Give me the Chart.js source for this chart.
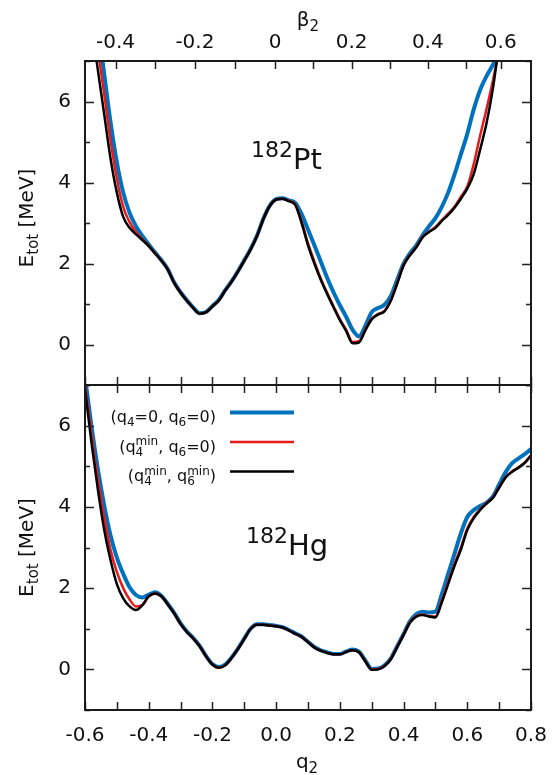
<!DOCTYPE html>
<html>
<head>
<meta charset="utf-8">
<script src="https://cdn.jsdelivr.net/npm/chart.js@4.4.0/dist/chart.umd.min.js"></script>
<style>
  html, body { margin: 0; padding: 0; background: #fff; }
  #wrap { position: relative; width: 555px; height: 775px; }
  canvas { position: absolute; left: 0; }
  #topChart { top: 0; }
  #botChart { top: 380px; }
</style>
</head>
<body>
<div id="wrap">
  <canvas id="topChart" width="555" height="395"></canvas>
  <canvas id="botChart" width="555" height="395"></canvas>
</div>
<script>
// deformation grid (q2)
const q2 = [-0.60,-0.58,-0.56,-0.54,-0.52,-0.50,-0.48,-0.46,-0.44,-0.42,-0.40,-0.38,-0.36,-0.34,-0.32,-0.30,-0.28,-0.26,-0.24,-0.22,-0.20,-0.18,-0.16,-0.14,-0.12,-0.10,-0.08,-0.06,-0.04,-0.02,
  0.00,0.02,0.04,0.06,0.08,0.10,0.12,0.14,0.16,0.18,0.20,0.22,0.24,0.26,0.28,0.30,0.32,0.34,0.36,0.38,0.40,0.42,0.44,0.46,0.48,0.50,0.52,0.54,0.56,0.58,0.60,0.62,0.64,0.66,0.68,0.70,0.72,0.74,0.76,0.78,0.80];

// 182Pt
const ptBlue = [9.8,9.0,7.9,6.7,5.5,4.5,3.75,3.25,2.92,2.68,2.47,2.27,2.08,1.86,1.53,1.29,1.09,0.91,0.77,0.8,0.95,1.1,1.34,1.56,1.81,2.08,2.36,2.69,3.11,3.43,
  3.59,3.61,3.56,3.5,3.22,2.84,2.45,2.05,1.65,1.29,0.97,0.68,0.36,0.2,0.46,0.8,0.9,0.98,1.2,1.6,2.0,2.25,2.45,2.7,2.92,3.12,3.4,3.75,4.2,4.7,5.2,5.8,6.28,6.62,6.9,7.2,7.6,null,null,null,null];
const ptRed = [9.3,8.4,7.3,6.2,5.05,4.1,3.4,3.02,2.78,2.6,2.44,2.25,2.07,1.85,1.52,1.28,1.08,0.9,0.76,0.8,0.94,1.09,1.33,1.55,1.8,2.07,2.35,2.68,3.1,3.42,
  3.58,3.6,3.55,3.46,3.04,2.5,2.05,1.63,1.28,0.95,0.63,0.36,0.06,0.08,0.37,0.64,0.75,0.83,1.1,1.52,1.97,2.21,2.41,2.66,2.79,2.9,3.07,3.23,3.4,3.65,3.9,4.45,5.15,5.8,6.5,7.3,8.1,null,null,null,null];
const ptBlack = [8.9,7.9,6.8,5.7,4.6,3.75,3.15,2.88,2.72,2.58,2.43,2.25,2.07,1.85,1.52,1.28,1.08,0.9,0.76,0.8,0.94,1.09,1.33,1.55,1.8,2.07,2.35,2.68,3.1,3.42,
  3.58,3.6,3.54,3.45,3.0,2.45,2.0,1.6,1.25,0.92,0.6,0.33,0.03,0.05,0.35,0.62,0.74,0.82,1.08,1.5,1.95,2.2,2.4,2.65,2.78,2.88,3.05,3.2,3.38,3.6,3.85,4.2,4.8,5.45,6.3,7.4,8.3,null,null,null,null];

// 182Hg
const hgBlue = [7.2,6.0,4.95,4.05,3.3,2.75,2.35,2.02,1.83,1.77,1.84,1.9,1.81,1.61,1.39,1.13,0.93,0.77,0.58,0.33,0.13,0.06,0.12,0.29,0.51,0.76,1.0,1.11,1.11,1.09,
  1.07,1.04,0.97,0.89,0.81,0.68,0.55,0.47,0.42,0.38,0.38,0.44,0.49,0.44,0.22,0.01,0.02,0.1,0.27,0.57,0.87,1.18,1.36,1.42,1.4,1.42,1.85,2.35,2.85,3.35,3.75,3.92,4.02,4.1,4.25,4.55,4.85,5.07,5.19,5.3,5.42];
const hgRed = [7.05,5.8,4.7,3.75,2.95,2.4,2.0,1.72,1.55,1.58,1.8,1.87,1.8,1.6,1.38,1.12,0.92,0.76,0.57,0.32,0.12,0.04,0.1,0.28,0.5,0.75,1.0,1.1,1.1,1.08,
  1.06,1.03,0.96,0.88,0.8,0.67,0.54,0.46,0.41,0.37,0.37,0.43,0.47,0.42,0.2,0.0,0.01,0.09,0.26,0.56,0.86,1.16,1.31,1.35,1.31,1.3,1.7,2.15,2.6,3.0,3.47,3.75,3.94,4.09,4.23,4.48,4.73,4.87,4.97,5.09,5.27];
const hgBlack = [6.9,5.6,4.45,3.45,2.7,2.1,1.75,1.55,1.46,1.58,1.8,1.87,1.8,1.6,1.38,1.12,0.92,0.76,0.57,0.32,0.12,0.04,0.1,0.28,0.5,0.75,1.0,1.1,1.1,1.08,
  1.06,1.03,0.96,0.88,0.8,0.67,0.54,0.46,0.41,0.37,0.37,0.43,0.47,0.42,0.2,-0.01,0.0,0.08,0.25,0.55,0.85,1.15,1.3,1.34,1.3,1.28,1.65,2.1,2.55,2.95,3.43,3.72,3.92,4.08,4.22,4.47,4.72,4.86,4.96,5.08,5.26];

// axis ticks
const xTicks = [-0.6,-0.5,-0.4,-0.3,-0.2,-0.1,0,0.1,0.2,0.3,0.4,0.5,0.6,0.7,0.8];
const xTickLabels = ['-0.6','','-0.4','','-0.2','','0.0','','0.2','','0.4','','0.6','','0.8'];
const yTicks = [-1,0,1,2,3,4,5,6,7];
const yTickLabels = ['','0','','2','','4','','6',''];
// beta2 top axis: q2 position of each beta2 tick
const betaTickQ2 = [-0.504,-0.380,-0.255,-0.128,-0.003,0.117,0.237,0.357,0.476,0.595,0.705];
const betaTickLabels = ['-0.4','','-0.2','','0','','0.2','','0.4','','0.6'];

const seriesNames = ['(q4min, q6min)', '(q4min, q6=0)', '(q4=0, q6=0)'];
const colors = ['#000000', '#e41a1c', '#0072bd'];
const widths = [2.5, 2.5, 4];

const FONT = '"DejaVu Sans", sans-serif';

function pts(arr) {
  return q2.map((x, i) => ({x: x, y: arr[i]}));
}

function makeSets(black, red, blue) {
  return [black, red, blue].map((arr, i) => ({
    label: seriesNames[i],
    data: pts(arr),
    borderColor: colors[i],
    borderWidth: widths[i],
    pointRadius: 0,
    fill: false,
    cubicInterpolationMode: 'monotone',
    clip: 0
  }));
}

function partWidth(ctx, p) {
  ctx.font = p.size + 'px ' + FONT;
  if (p.stack) return Math.max(ctx.measureText(p.stack[0]).width, ctx.measureText(p.stack[1]).width);
  return ctx.measureText(p.t).width;
}

function drawRich(ctx, x, y, parts, align) {
  const w = parts.reduce((s, p) => s + partWidth(ctx, p), 0);
  let cx = align === 'right' ? x - w : (align === 'center' ? x - w / 2 : x);
  ctx.textAlign = 'left';
  ctx.textBaseline = 'alphabetic';
  parts.forEach(p => {
    const pw = partWidth(ctx, p);
    ctx.font = p.size + 'px ' + FONT;
    if (p.stack) {
      ctx.fillText(p.stack[0], cx, y - p.up);
      ctx.fillText(p.stack[1], cx, y + p.down);
    } else {
      ctx.fillText(p.t, cx, y + (p.dy || 0));
    }
    cx += pw;
  });
}

function yLabel(ctx, cy) {
  ctx.save();
  ctx.translate(33, cy);
  ctx.rotate(-Math.PI / 2);
  drawRich(ctx, 0, 0, [{t: 'E', size: 20}, {t: 'tot', size: 15, dy: 5}, {t: ' [MeV]', size: 20}], 'center');
  ctx.restore();
}

// frame and inward ticks, gnuplot style
const frameTicks = {
  id: 'frameTicks',
  afterDatasetsDraw(chart) {
    const {ctx, chartArea: a, scales} = chart;
    ctx.save();
    ctx.strokeStyle = '#222';
    ctx.lineWidth = 1.5;
    ctx.beginPath();
    scales.x.ticks.forEach(t => {
      const px = Math.round(scales.x.getPixelForValue(t.value)) + 0.5;
      ctx.moveTo(px, a.bottom); ctx.lineTo(px, a.bottom - 8);
      if (!scales.x2) { ctx.moveTo(px, a.top); ctx.lineTo(px, a.top + 8); }
    });
    if (scales.x2) {
      scales.x2.ticks.forEach(t => {
        const px = Math.round(scales.x2.getPixelForValue(t.value)) + 0.5;
        ctx.moveTo(px, a.top); ctx.lineTo(px, a.top + 8);
      });
    }
    scales.y.ticks.forEach((t, i) => {
      const py = Math.round(scales.y.getPixelForValue(t.value)) + 0.5;
      const len = yTickLabels[i] ? 9 : 5;
      ctx.moveTo(a.left, py); ctx.lineTo(a.left + len, py);
      ctx.moveTo(a.right, py); ctx.lineTo(a.right - len, py);
    });
    ctx.stroke();
    ctx.lineWidth = 2;
    ctx.strokeStyle = '#1a1a1a';
    ctx.strokeRect(a.left, a.top, a.right - a.left, a.bottom - a.top);
    ctx.restore();
  }
};

const labelsTop = {
  id: 'labelsTop',
  afterDraw(chart) {
    const ctx = chart.ctx;
    ctx.save();
    ctx.fillStyle = '#111';
    drawRich(ctx, 308, 26, [{t: 'β', size: 20}, {t: '2', size: 15, dy: 5}], 'center');
    yLabel(ctx, 218);
    drawRich(ctx, 251, 169, [{t: '182', size: 22, dy: -11.7}, {t: 'Pt', size: 29}], 'left');
    ctx.restore();
  }
};

const labelsBot = {
  id: 'labelsBot',
  afterDraw(chart) {
    const ctx = chart.ctx;
    ctx.save();
    ctx.fillStyle = '#111';
    drawRich(ctx, 307, 388, [{t: 'q', size: 20}, {t: '2', size: 15, dy: 5}], 'center');
    yLabel(ctx, 167.5);
    drawRich(ctx, 246, 175, [{t: '182', size: 22, dy: -11.7}, {t: 'Hg', size: 29}], 'left');
    // key
    const rows = [
      [{t: '(q', size: 16}, {t: '4', size: 12, dy: 4}, {t: '=0, q', size: 16}, {t: '6', size: 12, dy: 4}, {t: '=0)', size: 16}],
      [{t: '(q', size: 16}, {stack: ['min', '4'], size: 12, up: 6.5, down: 4}, {t: ', q', size: 16}, {t: '6', size: 12, dy: 4}, {t: '=0)', size: 16}],
      [{t: '(q', size: 16}, {stack: ['min', '4'], size: 12, up: 6.5, down: 4}, {t: ', q', size: 16}, {stack: ['min', '6'], size: 12, up: 6.5, down: 4}, {t: ')', size: 16}]
    ];
    const sets = chart.data.datasets;
    const order = [2, 1, 0];
    rows.forEach((r, i) => {
      const y = 42 + i * 29.5;
      drawRich(ctx, 216, y, r, 'right');
      const ds = sets[order[i]];
      ctx.strokeStyle = ds.borderColor;
      ctx.lineWidth = ds.borderWidth;
      ctx.beginPath();
      ctx.moveTo(230, y - 9.5);
      ctx.lineTo(294, y - 9.5);
      ctx.stroke();
    });
    ctx.restore();
  }
};

function xScale(extra) {
  return Object.assign({
    type: 'linear',
    min: -0.6,
    max: 0.8,
    afterBuildTicks: s => { s.ticks = xTicks.map(v => ({value: v})); },
    grid: {display: false, drawTicks: false},
    border: {display: false},
    ticks: {
      autoSkip: false,
      maxRotation: 0,
      color: '#111',
      font: {family: FONT, size: 20},
      padding: 14,
      callback: (v, i) => xTickLabels[i]
    },
    afterFit: s => { s.paddingLeft = 0; s.paddingRight = 0; }
  }, extra);
}

function yScale() {
  return {
    type: 'linear',
    min: -1,
    max: 7,
    afterBuildTicks: s => { s.ticks = yTicks.map(v => ({value: v})); },
    grid: {display: false, drawTicks: false},
    border: {display: false},
    ticks: {
      autoSkip: false,
      color: '#111',
      font: {family: FONT, size: 20},
      padding: 14,
      callback: (v, i) => yTickLabels[i]
    },
    afterFit: s => { s.width = 85; s.paddingTop = 0; s.paddingBottom = 0; }
  };
}

const common = {
  responsive: false,
  animation: false,
  devicePixelRatio: 1,
  plugins: {legend: {display: false}, tooltip: {enabled: false}}
};

new Chart(document.getElementById('topChart').getContext('2d'), {
  type: 'line',
  data: {datasets: makeSets(ptBlack, ptRed, ptBlue)},
  options: Object.assign({}, common, {
    layout: {padding: {left: 0, right: 24, top: 0, bottom: 10}},
    scales: {
      x: xScale({display: false}),
      x2: {
        type: 'linear',
        position: 'top',
        min: -0.6,
        max: 0.8,
        afterBuildTicks: s => { s.ticks = betaTickQ2.map(v => ({value: v})); },
        grid: {display: false, drawTicks: false},
        border: {display: false},
        ticks: {
          autoSkip: false,
          maxRotation: 0,
          color: '#111',
          font: {family: FONT, size: 20},
          padding: 6,
          callback: (v, i) => betaTickLabels[i]
        },
        afterFit: s => { s.height = 61; s.paddingLeft = 0; s.paddingRight = 0; }
      },
      y: yScale()
    }
  }),
  plugins: [frameTicks, labelsTop]
});

new Chart(document.getElementById('botChart').getContext('2d'), {
  type: 'line',
  data: {datasets: makeSets(hgBlack, hgRed, hgBlue)},
  options: Object.assign({}, common, {
    layout: {padding: {left: 0, right: 24, top: 5, bottom: 0}},
    scales: {
      x: xScale({afterFit: s => { s.height = 65; s.paddingLeft = 0; s.paddingRight = 0; }}),
      y: yScale()
    }
  }),
  plugins: [frameTicks, labelsBot]
});
</script>
</body>
</html>
